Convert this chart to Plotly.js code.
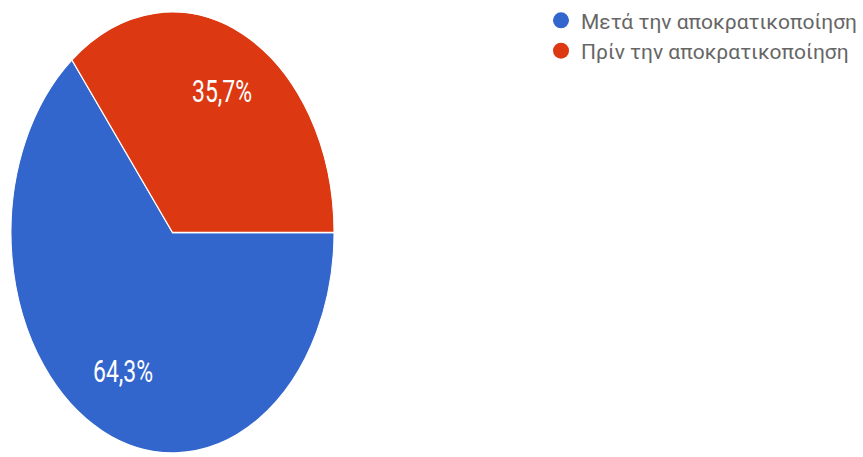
<!DOCTYPE html>
<html>
<head>
<meta charset="utf-8">
<script src="https://cdn.plot.ly/plotly-3.0.1.min.js"></script>
<style>
  html, body { margin: 0; padding: 0; background: #ffffff; overflow: hidden; }
  #wrap { position: relative; width: 863px; height: 457px; }
  #pie { position: absolute; left: 0; top: 0; width: 863px; height: 335px;
         transform: scaleY(1.365); transform-origin: 0 0; }
  #leg { position: absolute; left: 0; top: 0; width: 863px; height: 457px; }
</style>
</head>
<body>
<div id="wrap">
  <div id="pie"></div>
  <div id="leg"></div>
</div>
<script>
const categories = ["Μετά την αποκρατικοποίηση", "Πρίν την αποκρατικοποίηση"];
const values = [64.3, 35.7];
const colors = ["#3366cc", "#dc3912"];

// pie geometry (in the unscaled pie div)
const W = 863, H = 335;
const cxPx = 172.5, cyPx = 170.3, rPx = 161.5;
const labelFrac = 0.705;

const total = values.reduce((a, b) => a + b, 0);
let cum = 0;
const annotations = values.map((v, i) => {
  const mid = (cum + v / 2) / total;
  cum += v;
  const th = mid * 2 * Math.PI; // clockwise from 3 o'clock
  const d = labelFrac * rPx;
  const px = cxPx + Math.cos(th) * d;
  const py = cyPx + Math.sin(th) * d;
  return {
    xref: 'paper', yref: 'paper',
    x: px / W, y: 1 - py / H,
    xanchor: 'center', yanchor: 'middle',
    showarrow: false,
    text: (v / total * 100).toFixed(1).replace('.', ',') + '%',
    font: { family: 'Roboto, Arial, sans-serif', size: 23, color: '#ffffff' }
  };
});

Plotly.newPlot('pie', [{
  type: 'pie',
  labels: categories,
  values: values,
  sort: false,
  direction: 'clockwise',
  rotation: 90,
  textinfo: 'none',
  marker: { colors: colors, line: { color: '#ffffff', width: 1 } },
  showlegend: false,
  hoverinfo: 'none',
  domain: { x: [(cxPx - rPx) / W, (cxPx + rPx) / W],
            y: [1 - (cyPx + rPx) / H, 1 - (cyPx - rPx) / H] }
}], {
  width: W, height: H,
  margin: { l: 0, r: 0, t: 0, b: 0 },
  separators: ',.',
  paper_bgcolor: 'rgba(0,0,0,0)',
  plot_bgcolor: 'rgba(0,0,0,0)',
  showlegend: false,
  annotations: annotations
}, { staticPlot: true, displayModeBar: false });

const legTraces = categories.map((c, i) => ({
  type: 'scatter', mode: 'markers',
  x: [null], y: [null],
  name: c,
  marker: { color: colors[i], size: 20, symbol: 'circle' },
  showlegend: true
}));

Plotly.newPlot('leg', legTraces, {
  width: 863, height: 457,
  margin: { l: 0, r: 0, t: 0, b: 0 },
  paper_bgcolor: 'rgba(0,0,0,0)',
  plot_bgcolor: 'rgba(0,0,0,0)',
  xaxis: { visible: false },
  yaxis: { visible: false },
  showlegend: true,
  legend: {
    x: 541/863, y: 1.004, xanchor: 'left', yanchor: 'top',
    bgcolor: 'rgba(0,0,0,0)',
    font: { family: 'Roboto, Arial, sans-serif', size: 21, color: '#666666' },
    itemwidth: 30
  }
}, { staticPlot: true, displayModeBar: false });
</script>
</body>
</html>
